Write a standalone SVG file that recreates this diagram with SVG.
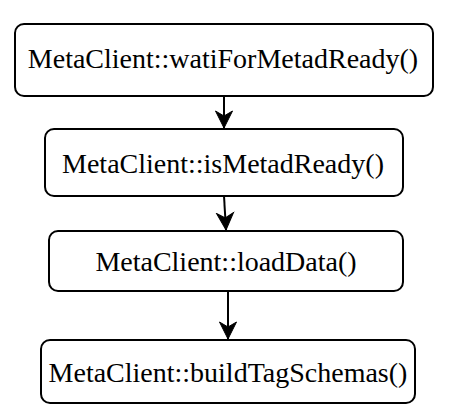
<svg xmlns="http://www.w3.org/2000/svg" width="451" height="418" viewBox="0 0 451 418">
<style>
.box{fill:#fff;stroke:#000;stroke-width:2}
.lbl{font-family:"Liberation Serif","Times New Roman",serif;font-size:28px;fill:#000;text-anchor:middle}
.edge{fill:none;stroke:#000;stroke-width:2}
</style>
<defs>
<marker id="arr" markerUnits="userSpaceOnUse" markerWidth="20" markerHeight="20" viewBox="-18 -10 20 20" refX="0" refY="0" orient="auto">
<path d="M0,0 L-17,-8.5 L-12,0 L-17,8.5 Z" fill="#000" stroke="#000" stroke-width="1"/>
</marker>
</defs>
<rect width="451" height="418" fill="#fff"/>
<g id="connectors">
<path class="edge" d="M224,96 L224,128" marker-end="url(#arr)"/>
<path class="edge" d="M224,196 L226,230" marker-end="url(#arr)"/>
<path class="edge" d="M228,291 L228,339" marker-end="url(#arr)"/>
</g>
<g id="n1">
<rect class="box" x="15" y="24" width="418" height="72" rx="9"/>
<text class="lbl" x="223" y="68">MetaClient::watiForMetadReady()</text>
</g>
<g id="n2">
<rect class="box" x="45" y="129" width="358" height="67" rx="9"/>
<text class="lbl" x="223" y="173">MetaClient::isMetadReady()</text>
</g>
<g id="n3">
<rect class="box" x="49" y="231" width="354" height="60" rx="9"/>
<text class="lbl" x="226" y="271">MetaClient::loadData()</text>
</g>
<g id="n4">
<rect class="box" x="41" y="340" width="374" height="63" rx="9"/>
<text class="lbl" x="228" y="382">MetaClient::buildTagSchemas()</text>
</g>
</svg>
